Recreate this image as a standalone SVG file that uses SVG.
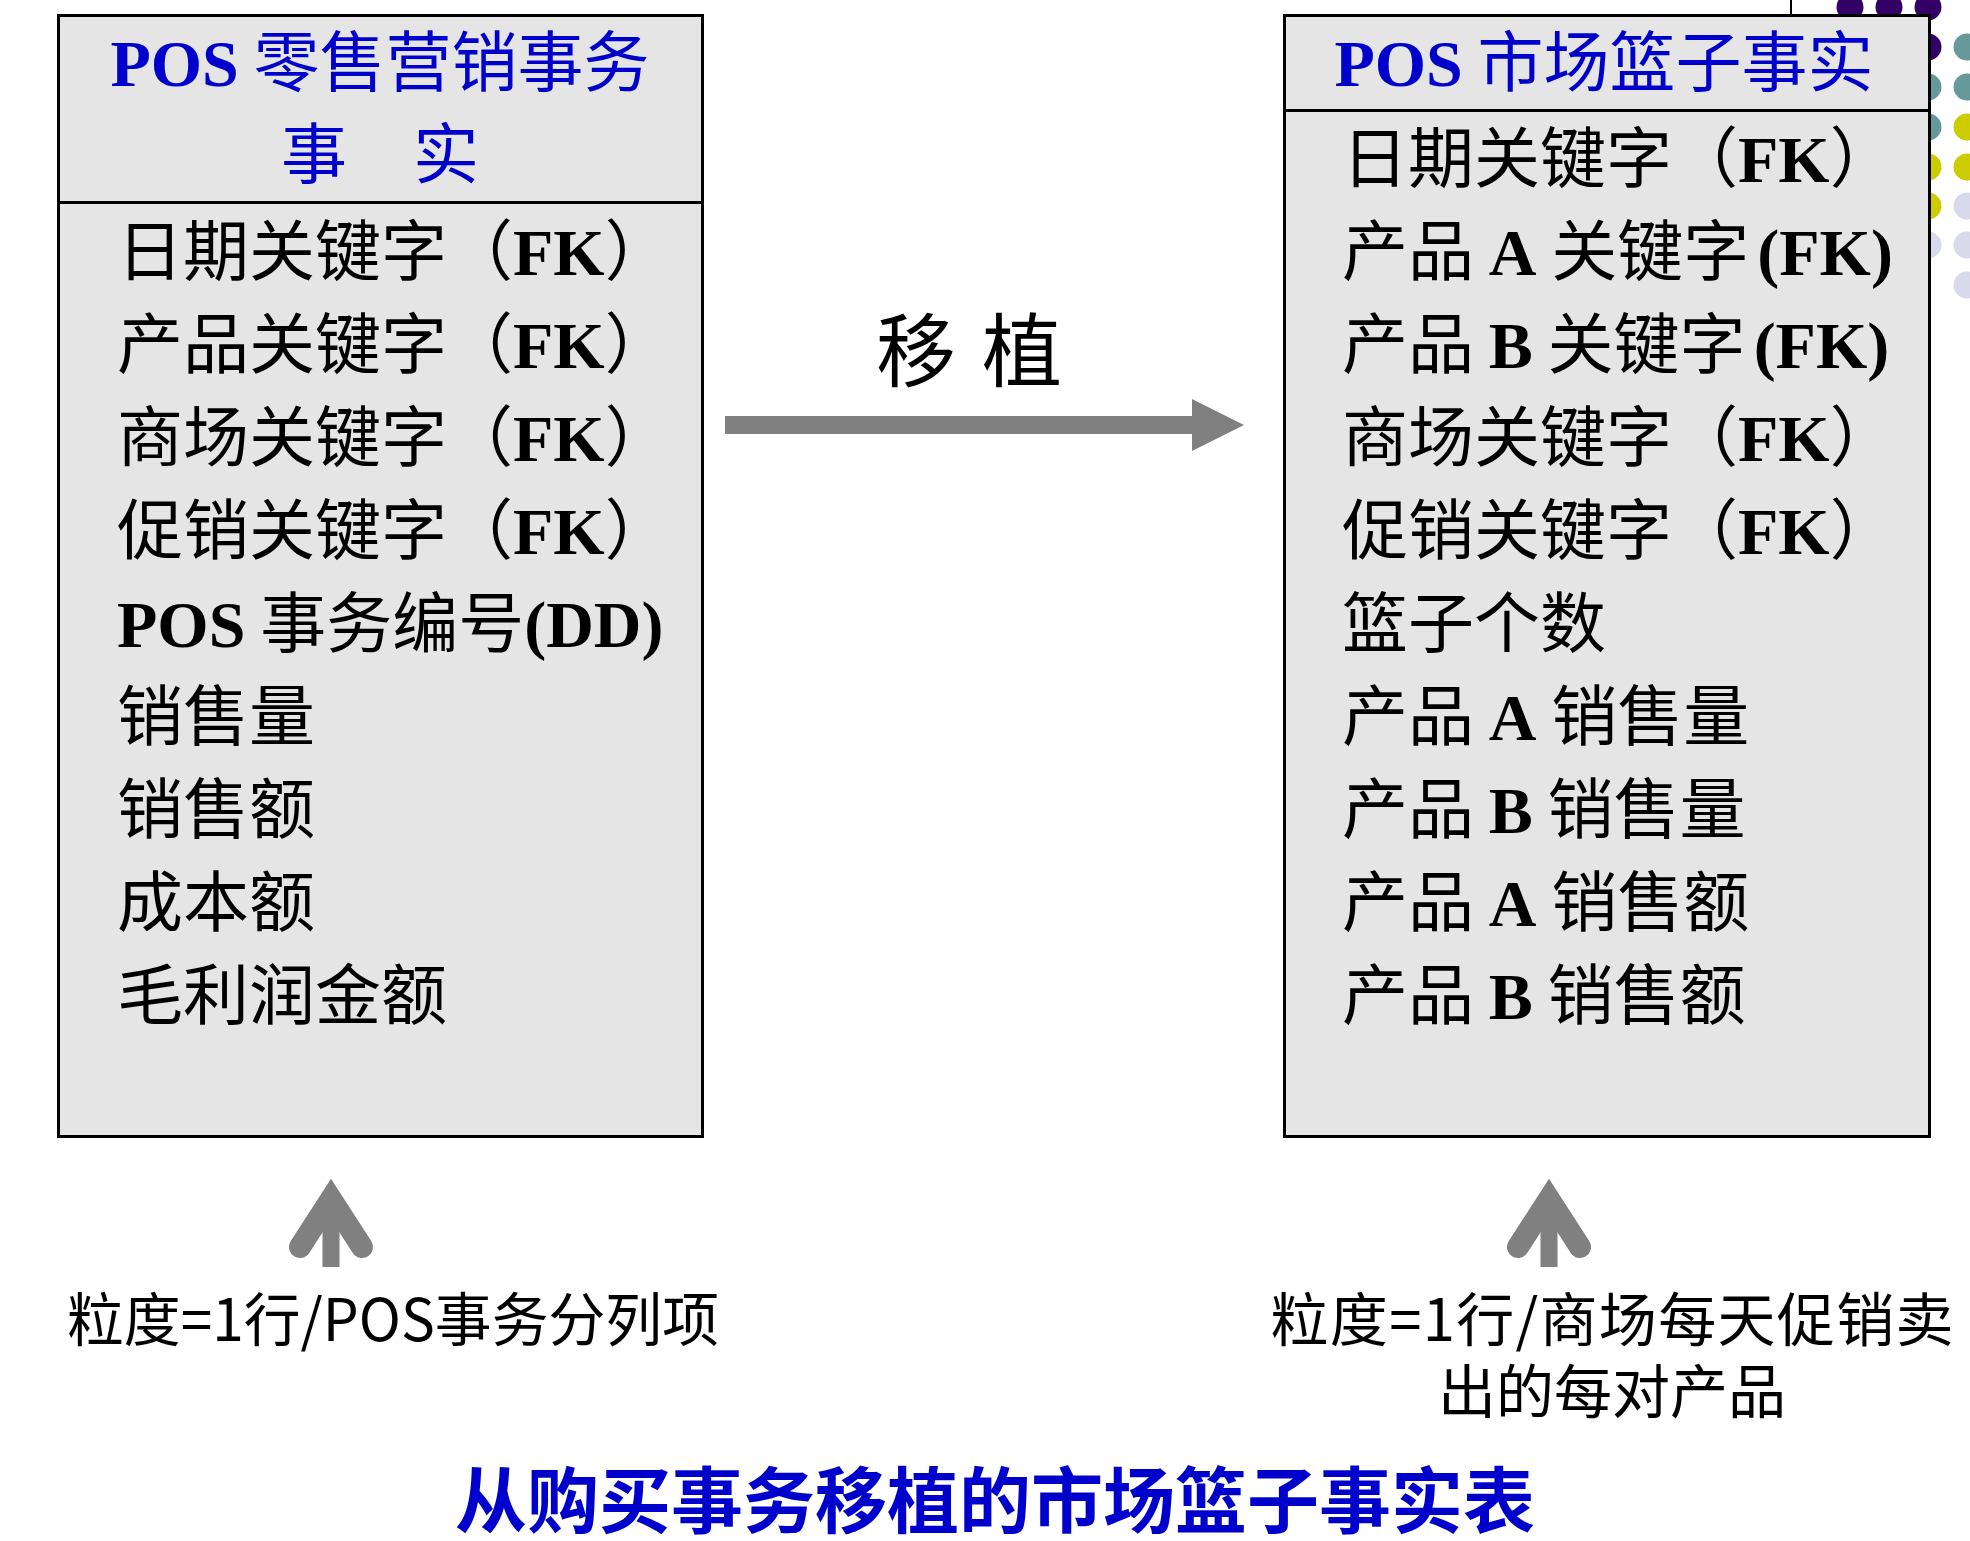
<svg xmlns="http://www.w3.org/2000/svg" xmlns:xlink="http://www.w3.org/1999/xlink" width="1970" height="1541" viewBox="0 0 1970 1541">
  <style>
    text { font-family: "Noto Sans CJK SC", "Noto Sans CJK TC", sans-serif; }
    .box { fill: #E5E5E5; stroke: #000000; stroke-width: 3; }
    .divider { stroke: #000000; stroke-width: 3; }
    .title { font-size: 66px; fill: #0000CC; }
    .row { font-size: 66px; fill: #000000; }
    .lat { font-family: "Liberation Serif", "Times New Roman", serif; font-weight: bold; }
    .label { font-size: 58px; fill: #000000; }
    .caption { font-size: 72px; font-weight: bold; fill: #0000CC; }
    .verb { font-size: 80px; fill: #000000; letter-spacing: 26px; }
    .arrow { fill: #808080; }
    .purple { fill: #330066; }
    .teal { fill: #669999; }
    .olive { fill: #CCCC00; }
    .lav { fill: #D9D9EC; }
  </style>
  <defs>
    <!-- grey up arrow: chevron head with rounded arm ends over a straight shaft -->
    <g id="upArrow">
      <polyline points="-31,1247 0,1199 31,1247" fill="none" stroke="#808080" stroke-width="22" stroke-linecap="round" stroke-linejoin="miter" stroke-miterlimit="10"/>
      <line x1="0" y1="1205" x2="0" y2="1267" stroke="#808080" stroke-width="17"/>
    </g>
  </defs>

  <rect width="1970" height="1541" fill="#FFFFFF"/>

  <!-- decorative corner: dot grid and thin rule -->
  <g id="decor">
    <line x1="1791" y1="0" x2="1791" y2="16" stroke="#000000" stroke-width="2"/>
    <circle class="purple" cx="1850" cy="7" r="13.5"/>
    <circle class="purple" cx="1889" cy="7" r="13.5"/>
    <circle class="purple" cx="1928" cy="7" r="13.5"/>
    <circle class="purple" cx="1928" cy="47" r="13.5"/>
    <circle class="teal" cx="1967" cy="47" r="13.5"/>
    <circle class="teal" cx="1928" cy="87" r="13.5"/>
    <circle class="teal" cx="1967" cy="87" r="13.5"/>
    <circle class="teal" cx="1928" cy="127" r="13.5"/>
    <circle class="olive" cx="1967" cy="127" r="13.5"/>
    <circle class="olive" cx="1928" cy="167" r="13.5"/>
    <circle class="olive" cx="1967" cy="167" r="13.5"/>
    <circle class="olive" cx="1928" cy="206" r="13.5"/>
    <circle class="lav" cx="1967" cy="206" r="13.5"/>
    <circle class="lav" cx="1928" cy="245" r="13.5"/>
    <circle class="lav" cx="1967" cy="245" r="13.5"/>
    <circle class="lav" cx="1967" cy="285" r="13.5"/>
  </g>

  <!-- source fact table -->
  <g id="pos-sales-fact">
    <rect class="box" x="58.5" y="15.5" width="644" height="1121"/>
    <line class="divider" x1="58.5" y1="202.5" x2="702.5" y2="202.5"/>
    <text class="title" x="380" y="86" text-anchor="middle"><tspan class="lat">POS</tspan> 零售营销事务</text>
    <text class="title" x="380" y="178" text-anchor="middle">事　实</text>
    <text class="row" x="117" y="275">日期关键字（<tspan class="lat">FK</tspan>）</text>
    <text class="row" x="117" y="368">产品关键字（<tspan class="lat">FK</tspan>）</text>
    <text class="row" x="117" y="461">商场关键字（<tspan class="lat">FK</tspan>）</text>
    <text class="row" x="117" y="554">促销关键字（<tspan class="lat">FK</tspan>）</text>
    <text class="row" x="117" y="647"><tspan class="lat">POS</tspan> 事务编号<tspan class="lat">(DD)</tspan></text>
    <text class="row" x="117" y="740">销售量</text>
    <text class="row" x="117" y="833">销售额</text>
    <text class="row" x="117" y="926">成本额</text>
    <text class="row" x="117" y="1019">毛利润金额</text>
  </g>

  <!-- derived market basket fact table -->
  <g id="market-basket-fact">
    <rect class="box" x="1284.5" y="15.5" width="645" height="1121"/>
    <line class="divider" x1="1284.5" y1="110.5" x2="1929.5" y2="110.5"/>
    <text class="title" x="1604" y="86" text-anchor="middle"><tspan class="lat">POS</tspan> 市场篮子事实</text>
    <text class="row" x="1342" y="182">日期关键字（<tspan class="lat">FK</tspan>）</text>
    <text class="row" x="1342" y="275">产品 <tspan class="lat">A</tspan> 关键字<tspan class="lat" dx="8">(FK)</tspan></text>
    <text class="row" x="1342" y="368">产品 <tspan class="lat">B</tspan> 关键字<tspan class="lat" dx="8">(FK)</tspan></text>
    <text class="row" x="1342" y="461">商场关键字（<tspan class="lat">FK</tspan>）</text>
    <text class="row" x="1342" y="554">促销关键字（<tspan class="lat">FK</tspan>）</text>
    <text class="row" x="1342" y="647">篮子个数</text>
    <text class="row" x="1342" y="740">产品 <tspan class="lat">A</tspan> 销售量</text>
    <text class="row" x="1342" y="833">产品 <tspan class="lat">B</tspan> 销售量</text>
    <text class="row" x="1342" y="926">产品 <tspan class="lat">A</tspan> 销售额</text>
    <text class="row" x="1342" y="1019">产品 <tspan class="lat">B</tspan> 销售额</text>
  </g>

  <!-- connectors -->
  <g id="connectors">
    <g id="migrate-arrow">
      <path class="arrow" d="M725,416 H1192 V399 L1244,425 L1192,451 V434 H725 Z"/>
      <text class="verb" x="876" y="380">移植</text>
    </g>
    <use id="grain-arrow-source" xlink:href="#upArrow" href="#upArrow" x="331" y="0"/>
    <use id="grain-arrow-target" xlink:href="#upArrow" href="#upArrow" x="1549" y="0"/>
  </g>

  <!-- grain notes -->
  <g id="grain-source">
    <text class="label" x="67" y="1341" textLength="652" lengthAdjust="spacingAndGlyphs">粒度=1行/POS事务分列项</text>
  </g>
  <g id="grain-target">
    <text class="label" x="1612" y="1341" text-anchor="middle" textLength="683" lengthAdjust="spacing">粒度=1行/商场每天促销卖</text>
    <text class="label" x="1612" y="1413" text-anchor="middle">出的每对产品</text>
  </g>

  <g id="caption">
    <text class="caption" x="995" y="1527" text-anchor="middle">从购买事务移植的市场篮子事实表</text>
  </g>
</svg>
